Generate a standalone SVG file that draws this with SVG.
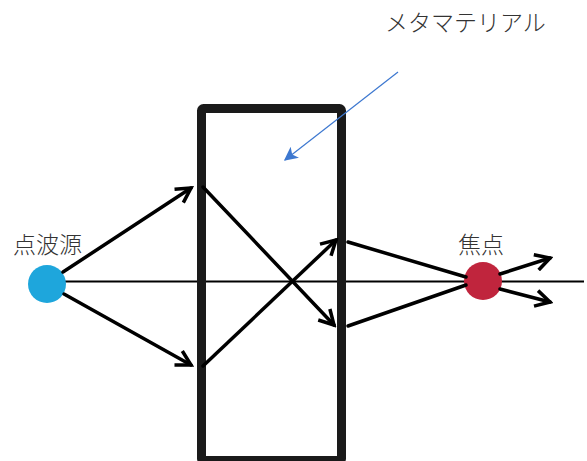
<svg xmlns="http://www.w3.org/2000/svg" width="587" height="461" viewBox="0 0 587 461">
<defs>
<marker id="ah" viewBox="0 0 12 12" refX="10" refY="6" markerWidth="5.5" markerHeight="5.5" markerUnits="strokeWidth" orient="auto">
<path d="M1,1 L10,6 L1,11" fill="none" stroke="#000" stroke-width="2.2" stroke-linejoin="miter"/>
</marker>
<marker id="bh" viewBox="0 0 10 10" refX="9" refY="5" markerWidth="14" markerHeight="14" markerUnits="userSpaceOnUse" orient="auto">
<path d="M0,0 L10,5 L0,10 L2.5,5 Z" fill="#3d78d0"/>
</marker>
<style>
.ray{stroke:#000;stroke-width:3.5;fill:none;stroke-linecap:round}
.lbl{font-family:"Noto Sans CJK JP","Noto Sans CJK SC",sans-serif;font-size:23px;font-weight:300;fill:#333}
</style>
</defs>
<rect width="587" height="461" fill="#fff"/>
<g id="axis"><line x1="47" y1="281.5" x2="584" y2="281.5" stroke="#000" stroke-width="1.8"/></g>
<g id="metamaterial">
<rect x="201.5" y="108.5" width="140" height="352" rx="2" fill="none" stroke="#1a1a1a" stroke-width="9"/>
<text class="lbl" x="385" y="31">メタマテリアル</text>
</g>
<g id="source">
<circle cx="47" cy="284" r="19" fill="#1ea6dc"/>
<text class="lbl" x="13" y="253">点波源</text>
</g>
<g id="focus">
<circle cx="483" cy="281" r="19" fill="#c0253d"/>
<text class="lbl" x="458" y="253">焦点</text>
</g>
<g id="connectors">
<line class="ray" x1="63" y1="272" x2="191" y2="188" marker-end="url(#ah)"/>
<line class="ray" x1="64" y1="294" x2="191" y2="365" marker-end="url(#ah)"/>
<line class="ray" x1="203" y1="187" x2="334" y2="325" marker-end="url(#ah)"/>
<line class="ray" x1="203" y1="366" x2="336" y2="240" marker-end="url(#ah)"/>
<line class="ray" x1="348" y1="242" x2="466" y2="277"/>
<line class="ray" x1="348" y1="326" x2="466" y2="285"/>
<line class="ray" x1="500" y1="274" x2="550" y2="258" marker-end="url(#ah)"/>
<line class="ray" x1="500" y1="289" x2="550" y2="302" marker-end="url(#ah)"/>
<line x1="398" y1="72" x2="285" y2="160" stroke="#3d78d0" stroke-width="1.2" marker-end="url(#bh)"/>
</g>
</svg>
